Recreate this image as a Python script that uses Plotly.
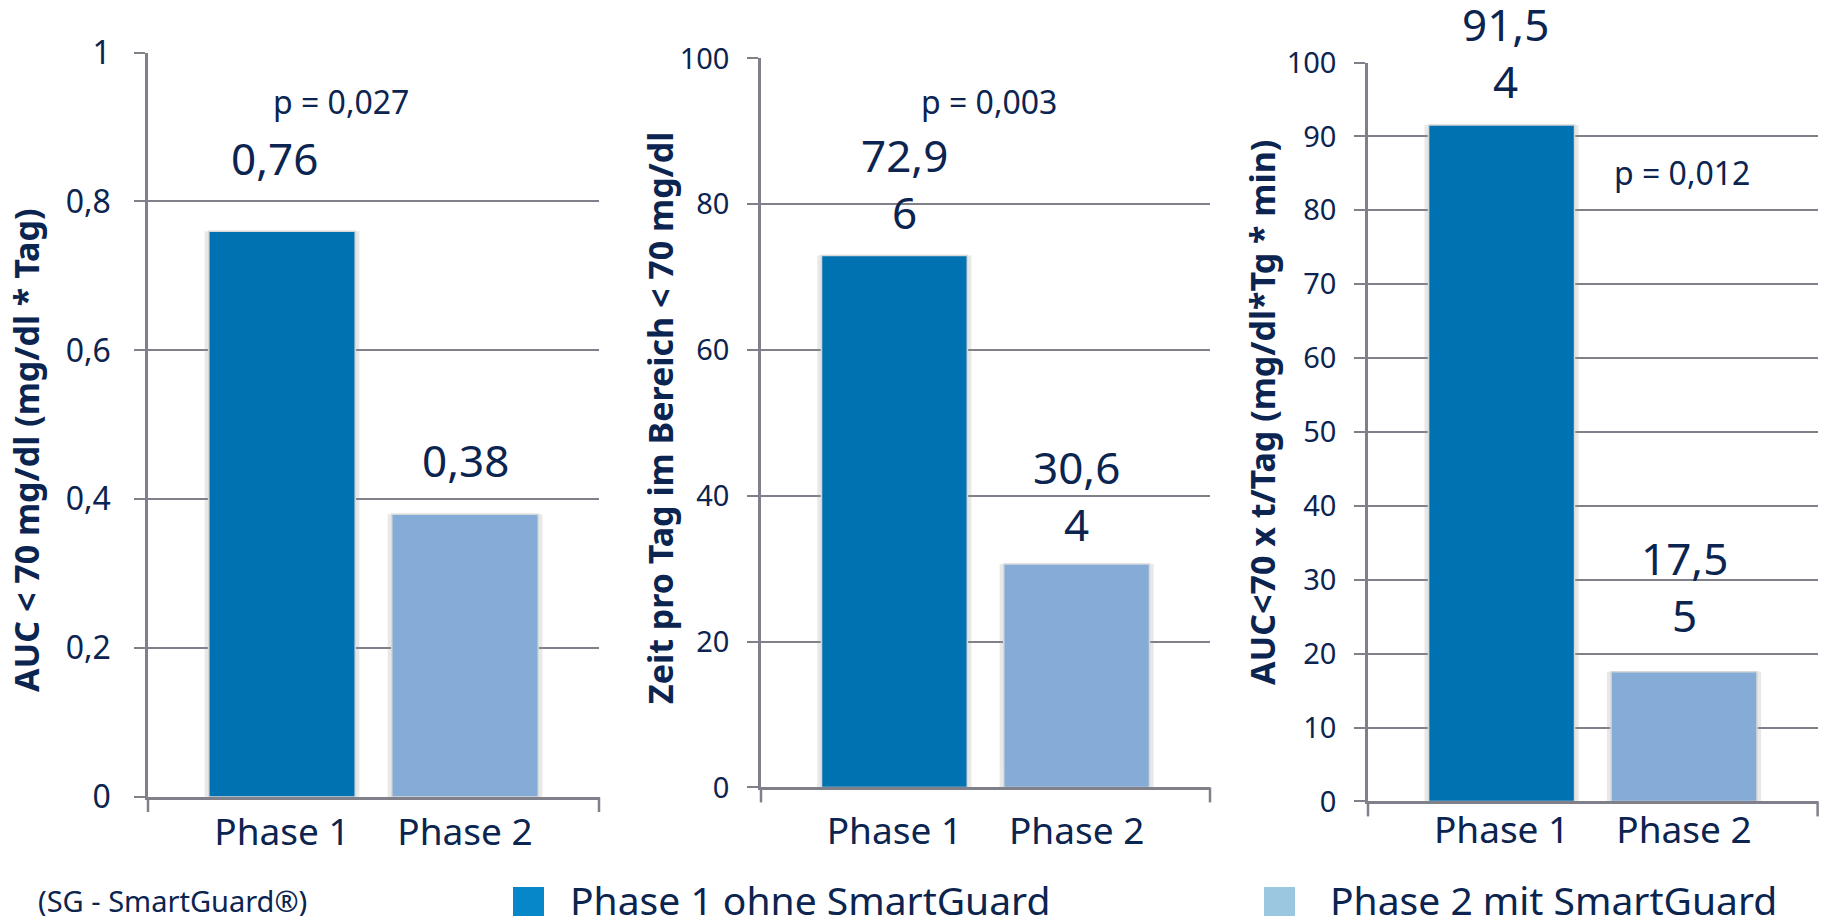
import plotly.graph_objects as go

# ---- data -------------------------------------------------------------
categories = ["Phase 1", "Phase 2"]

auc_below_70 = [0.76, 0.38]            # AUC < 70 mg/dl (mg/dl * Tag)
time_below_70 = [72.96, 30.64]         # Zeit pro Tag < 70 mg/dl
auc_time_below_70 = [91.54, 17.55]     # AUC<70 x t/Tag

p_values = ["0,027", "0,003", "0,012"]

y_titles = [
    "AUC < 70 mg/dl (mg/dl * Tag)",
    "Zeit pro Tag im Bereich < 70 mg/dl",
    "AUC<70 x t/Tag (mg/dl*Tg * min)",
]
y_max = [1, 100, 100]
y_step = [0.2, 20, 10]

legend_labels = ["Phase 1 ohne SmartGuard", "Phase 2 mit SmartGuard"]
footnote = "(SG - SmartGuard®)"

# ---- style ------------------------------------------------------------
W, H = 1825, 916
NAVY = "#0b2450"
GRID = "#80808a"
BAR_COLORS = ["#0072b2", "#84acd6"]
SWATCH_COLORS = ["#0587c9", "#9bc7e1"]
FONT = "Noto Sans"

# panel frames in pixels: left, right, top, bottom
frames = [
    (148, 599, 52.6, 797.0),
    (761, 1210, 58.4, 787.4),
    (1368, 1817.6, 62.5, 801.4),
]
tick_sizes = [32, 29, 29]
y_label_gap = [17, 12, 12]
x_label_gap = [1, 9, -6]
title_pos = [(26, 451), (660, 418), (1262, 413)]
p_pos = [(341, 102), (989, 101), (1682, 172)]
# value-label lift above bar top (px) and horizontal nudge (px)
label_lift = [(70, 51), (41, 37.5), (41.5, 54)]
label_nudge = [(-7, 0), (10, 0), (4, 0)]

CAT_RANGE = [-0.732, 1.732]
BAR_W = 0.80
SHADOW_W = 0.845


def px(x):
    return x / W


def py(y):
    return 1 - y / H


def fmt(v):
    s = str(v).replace(".", ",")
    return s if len(s) <= 4 else s[:4] + "<br>" + s[4:]


series = [auc_below_70, time_below_70, auc_time_below_70]

fig = go.Figure()
annotations = []
shapes = []

for i, vals in enumerate(series):
    n = "" if i == 0 else str(i + 1)
    xa, ya = "x" + n, "y" + n
    left, right, top, bottom = frames[i]

    # soft shadow behind each bar
    fig.add_trace(go.Bar(
        x=categories, y=vals, xaxis=xa, yaxis=ya, width=SHADOW_W,
        marker=dict(color="rgba(150,150,150,0.22)", line=dict(width=0)),
        hoverinfo="skip", showlegend=False,
    ))
    fig.add_trace(go.Bar(
        x=categories, y=vals, xaxis=xa, yaxis=ya, width=BAR_W,
        marker=dict(color=BAR_COLORS, line=dict(color="#d8d8d8", width=1.5)),
        showlegend=False,
    ))

    fig.layout["xaxis" + n] = dict(
        domain=[px(left), px(right)], anchor=ya, type="category",
        range=CAT_RANGE, showgrid=False, zeroline=False, automargin=False,
        showline=True, linecolor=GRID, linewidth=2.5, ticks="",
        tickfont=dict(family=FONT, size=37, color=NAVY),
        ticklabelstandoff=x_label_gap[i],
    )
    fig.layout["yaxis" + n] = dict(
        domain=[py(bottom), py(top)], anchor=xa, automargin=False,
        range=[0, y_max[i]], dtick=y_step[i], tick0=0,
        showgrid=True, gridcolor=GRID, gridwidth=2, zeroline=False,
        showline=True, linecolor=GRID, linewidth=2.5,
        ticks="outside", ticklen=11, tickwidth=2, tickcolor=GRID,
        tickfont=dict(family=FONT, size=tick_sizes[i], color=NAVY),
        ticklabelstandoff=y_label_gap[i],
    )

    # end ticks below the category axis
    drop = 15 / (bottom - top)
    for xd in (0, 1):
        shapes.append(dict(
            type="line", xref=xa + " domain", yref=ya + " domain",
            x0=xd, x1=xd, y0=0, y1=-drop,
            line=dict(color=GRID, width=2.5),
        ))

    # value labels
    for j, v in enumerate(vals):
        annotations.append(dict(
            x=categories[j], y=v, xref=xa, yref=ya,
            text=fmt(v), showarrow=False,
            xanchor="center", yanchor="bottom",
            xshift=label_nudge[i][j], yshift=label_lift[i][j] - 29,
            font=dict(family=FONT, size=44, color=NAVY),
        ))

    # p-value
    annotations.append(dict(
        x=px(p_pos[i][0]), y=py(p_pos[i][1]), xref="paper", yref="paper",
        text="p = " + p_values[i], showarrow=False,
        xanchor="center", yanchor="middle",
        font=dict(family=FONT, size=32, color=NAVY),
    ))

    # axis title
    annotations.append(dict(
        x=px(title_pos[i][0]), y=py(title_pos[i][1]), xref="paper", yref="paper",
        text="<b>" + y_titles[i] + "</b>", textangle=-90, showarrow=False,
        xanchor="center", yanchor="middle",
        font=dict(family=FONT, size=34, color=NAVY),
    ))

# legend drawn as swatches + labels along the bottom
swatch_x = [513, 1264]
text_x = [568, 1328]
for k in range(2):
    shapes.append(dict(
        type="rect", xref="paper", yref="paper",
        x0=px(swatch_x[k]), x1=px(swatch_x[k] + 31), y0=py(920), y1=py(887),
        fillcolor=SWATCH_COLORS[k], line=dict(width=0),
    ))
    annotations.append(dict(
        x=px(text_x[k]), y=py(871), xref="paper", yref="paper",
        text=legend_labels[k], showarrow=False,
        xanchor="left", yanchor="top",
        font=dict(family=FONT, size=39, color=NAVY),
    ))

annotations.append(dict(
    x=px(36), y=py(879), xref="paper", yref="paper",
    text=footnote, showarrow=False, xanchor="left", yanchor="top",
    font=dict(family=FONT, size=29, color=NAVY),
))

fig.update_layout(
    width=W, height=H, margin=dict(l=0, r=0, t=0, b=0),
    paper_bgcolor="white", plot_bgcolor="white",
    barmode="overlay", separators=",.",
    annotations=annotations, shapes=shapes,
    font=dict(family=FONT, color=NAVY),
)

fig.write_html("out.html")
